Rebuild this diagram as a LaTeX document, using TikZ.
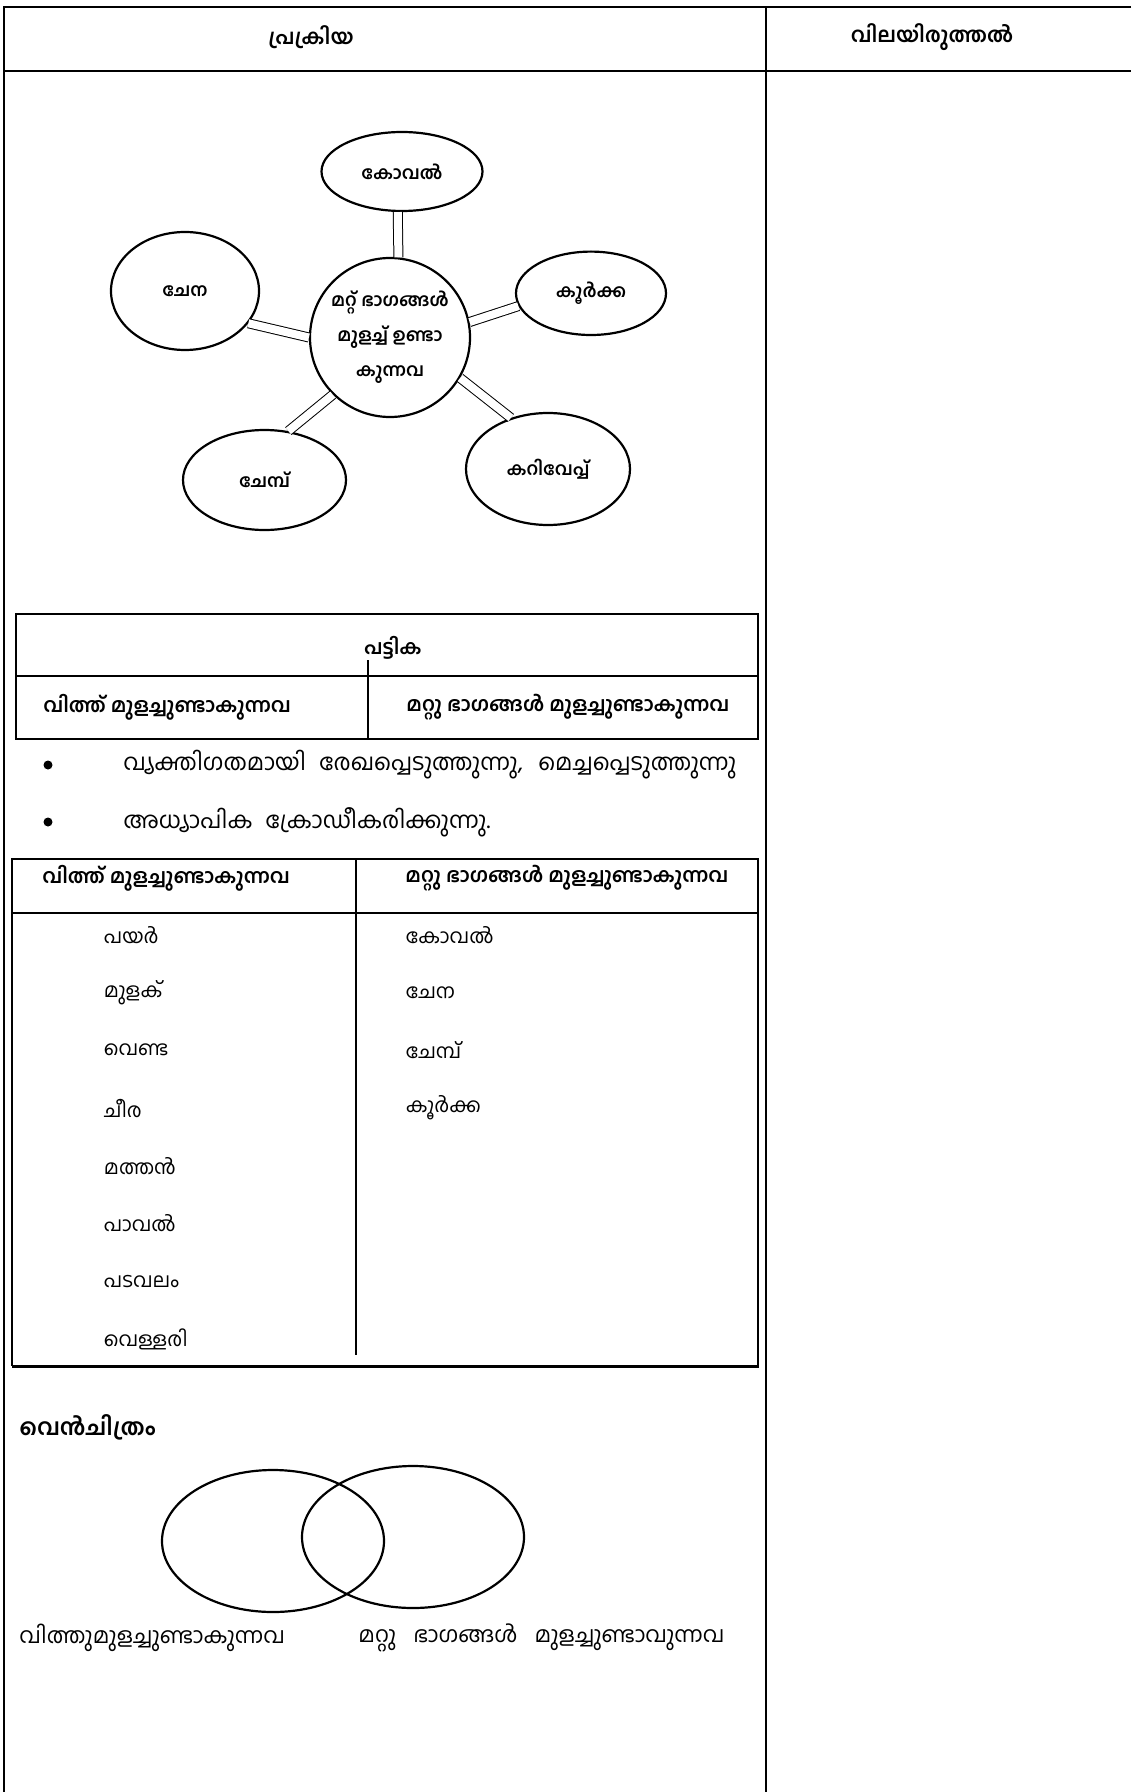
\documentclass[tikz,border=0pt]{standalone}
\usepackage{fontspec}
\newfontfamily\ml[Script=Malayalam]{Hind Kochi}
\usetikzlibrary{shapes.geometric}
\begin{document}
\begin{tikzpicture}[x=0.5pt,y=-0.5pt,
  rule/.style={line width=1pt},
  bub/.style={draw, ellipse, line width=1.1pt, inner sep=-2pt, align=center, font=\ml\bfseries\fontsize{9}{17.5}\selectfont},
  dbl/.style={double, line width=0.5pt, double distance=4pt},
  hd/.style={inner sep=0pt, font=\ml\bfseries\fontsize{10.4}{12}\selectfont},
  hb/.style={inner sep=0pt, font=\ml\bfseries\fontsize{10}{12}\selectfont},
  tx/.style={inner sep=0pt, font=\ml\fontsize{10}{12}\selectfont},
  btx/.style={inner sep=0pt, font=\ml\fontsize{11.5}{13}\selectfont},
  bul/.style={circle, fill, inner sep=0pt, minimum size=4.5pt},
  venn/.style={draw, ellipse, line width=1.1pt, inner sep=0pt}]
\useasboundingbox (0,0) rectangle (1131,1792);
% outer frame
\draw[rule] (1131,7) -- (4,7) -- (4,1792);
\draw[rule] (4,71) -- (1131,71);
\draw[rule] (766,7) -- (766,1792);
\node[hd] (h1) at (311,37) {പ്രക്രിയ};
\node[hd] (h2) at (932,37) {വിലയിരുത്തൽ};
% bubble diagram
\node[bub, minimum width=80pt, minimum height=79.5pt] (c) at (390,337.5) {മറ്റ് ഭാഗങ്ങൾ\\മുളച്ച് ഉണ്ടാ\\കുന്നവ};
\node[bub, minimum width=80.5pt, minimum height=39.5pt] (kov) at (402,171.5) {കോവൽ};
\node[bub, minimum width=74pt, minimum height=59pt] (chena) at (185,291) {ചേന};
\node[bub, minimum width=75pt, minimum height=41.7pt] (kur) at (591,293.3) {കൂർക്ക};
\node[bub, minimum width=81.5pt, minimum height=50pt] (chem) at (264.5,480) {ചേമ്പ്};
\node[bub, minimum width=82pt, minimum height=56pt] (kari) at (548,469) {കറിവേപ്പ്};
\draw[dbl] (kov.264) -- (c.84);
\draw[dbl] (chena.333) -- (c.180);
\draw[dbl] (c.11) -- (kur.190);
\draw[dbl] (c.330) -- (kari.126);
\draw[dbl] (c.225) -- (chem.64);
% table 1
\draw[rule] (16,614) rectangle (758,739);
\draw[rule] (16,676) -- (758,676);
\draw[rule] (367.7,660) -- (367.7,739);
\node[hb] (t1h) at (393,648) {പട്ടിക};
\node[hb, anchor=west] (t1a) at (43,707) {വിത്ത് മുളച്ചുണ്ടാകുന്നവ};
\node[hb, anchor=west] (t1b) at (406,707) {മറ്റു ഭാഗങ്ങൾ മുളച്ചുണ്ടാകുന്നവ};
% bullets
\node[bul] (b1) at (48,765) {};
\node[btx, anchor=west] (b1t) at (123,765) {\makebox[306.5pt][s]{വ്യക്തിഗതമായി രേഖപ്പെടുത്തുന്നു, മെച്ചപ്പെടുത്തുന്നു}};
\node[bul] (b2) at (48,822) {};
\node[btx, anchor=west] (b2t) at (123,822) {\makebox[183.5pt][s]{അധ്യാപിക ക്രോഡീകരിക്കുന്നു.}};
% table 2
\draw[rule] (758,1366) -- (758,859) -- (12,859) -- (12,1366);
\draw[line width=1.5pt] (11.5,1366) -- (758.5,1366);
\draw[rule] (12,913) -- (758,913);
\draw[rule] (356,859) -- (356,1355);
\node[hb, anchor=west] (t2a) at (42,878) {വിത്ത് മുളച്ചുണ്ടാകുന്നവ};
\node[hb, anchor=west] (t2b) at (405,878) {മറ്റു ഭാഗങ്ങൾ മുളച്ചുണ്ടാകുന്നവ};
\node[tx, anchor=west] (l1) at (103.5,935) {പയർ};
\node[tx, anchor=west] (l2) at (103.5,993) {മുളക്};
\node[tx, anchor=west] (l3) at (103.5,1050) {വെണ്ട};
\node[tx, anchor=west] (l4) at (103.5,1108) {ചീര};
\node[tx, anchor=west] (l5) at (103.5,1166) {മത്തൻ};
\node[tx, anchor=west] (l6) at (103.5,1223) {പാവൽ};
\node[tx, anchor=west] (l7) at (103.5,1281) {പടവലം};
\node[tx, anchor=west] (l8) at (103.5,1339) {വെള്ളരി};
\node[tx, anchor=west] (r1) at (405.5,935) {കോവൽ};
\node[tx, anchor=west] (r2) at (405.5,993) {ചേന};
\node[tx, anchor=west] (r3) at (405.5,1050) {ചേമ്പ്};
\node[tx, anchor=west] (r4) at (405.5,1108) {കൂർക്ക};
% venn
\node[inner sep=0pt, font=\ml\bfseries\fontsize{11.5}{13}\selectfont, anchor=west] (vt) at (19,1427) {വെൻചിത്രം};
\node[venn, minimum width=111pt, minimum height=71pt] (vl) at (273,1541) {};
\node[venn, minimum width=111pt, minimum height=71pt] (vr) at (413,1537) {};
\node[tx, font=\ml\fontsize{11}{13}\selectfont, anchor=west] (vla) at (19,1638) {വിത്തുമുളച്ചുണ്ടാകുന്നവ};
\node[tx, font=\ml\fontsize{11}{13}\selectfont, anchor=west] (vra) at (358,1638) {\makebox[183pt][s]{മറ്റു ഭാഗങ്ങൾ മുളച്ചുണ്ടാവുന്നവ}};
\end{tikzpicture}
\end{document}
